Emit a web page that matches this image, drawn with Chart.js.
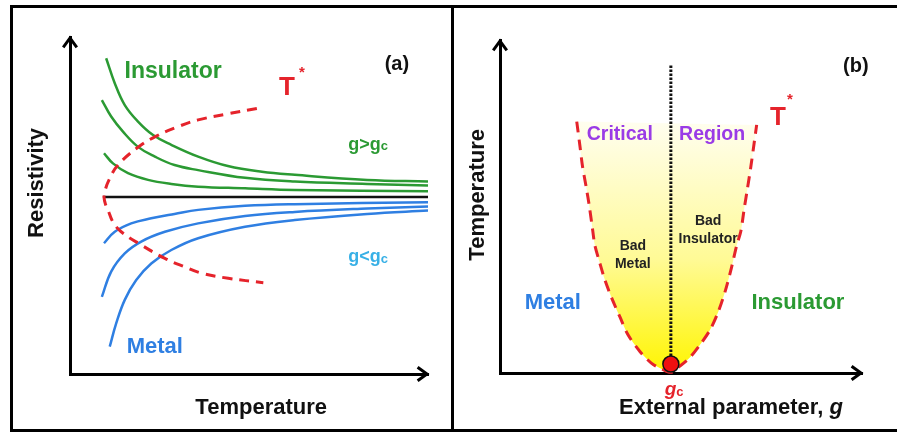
<!DOCTYPE html>
<html>
<head>
<meta charset="utf-8">
<script src="https://cdn.jsdelivr.net/npm/chart.js@4.4.1/dist/chart.umd.min.js"></script>
<style>
  html, body { margin: 0; padding: 0; background: #fff; }
  #pagina { position: relative; width: 897px; height: 433px; overflow: hidden; }
  #moldura { position: absolute; left: 10px; top: 5px; width: 900px; height: 421px;
             border-top: 3px solid #000; border-left: 3px solid #000; border-bottom: 3px solid #000; }
  #divisor { position: absolute; left: 451px; top: 5px; width: 3px; height: 427px; background: #000; }
  canvas { position: absolute; top: 0; }
  #graficoResistividade { left: 0; }
  #graficoFases { left: 452px; }
</style>
</head>
<body>
<div id="pagina">
  <div id="moldura"></div>
  <div id="divisor"></div>
  <canvas id="graficoResistividade" width="452" height="433"></canvas>
  <canvas id="graficoFases" width="445" height="433"></canvas>
</div>
<script>
// (a) resistivity vs temperature (both axes 0-100, arbitrary units)
var insulatorHigh = [[10.1,93.7],[12.5,86.3],[15.3,79.8],[19.0,74.9],[23.2,70.9],[28.3,68.0],[35.8,64.5],[44.1,61.7],[53.6,60.0],[62.8,59.1],[83.0,57.6],[100,57.1]];
var insulatorMid  = [[8.9,81.3],[11.5,76.4],[14.8,71.9],[19.0,67.4],[23.7,64.5],[29.2,62.0],[35.8,60.5],[48.9,58.2],[62.8,57.1],[83.0,56.4],[100,55.9]];
var insulatorLow  = [[9.5,65.5],[12.0,62.5],[16.2,59.6],[21.8,57.6],[28.3,56.4],[35.8,55.6],[48.9,55.1],[62.8,54.6],[100,54.2]];
var separatrix    = [[9.2,52.5],[100,52.5]];
var metalHigh     = [[9.5,38.8],[12.5,42.2],[17.1,44.7],[22.7,46.2],[29.2,47.5],[35.8,48.7],[48.9,49.9],[62.8,50.4],[100,51.0]];
var metalMid      = [[8.9,22.9],[11.5,30.4],[15.3,35.8],[19.9,39.3],[26.5,42.2],[35.8,44.7],[48.9,46.9],[62.8,48.1],[83.0,49.1],[100,49.7]];
var metalLow      = [[11.1,8.1],[12.9,15.0],[15.3,22.0],[18.5,27.9],[22.7,32.8],[28.3,36.8],[35.8,40.3],[48.9,43.7],[62.8,45.7],[83.0,47.5],[100,48.5]];
var crossoverA    = [[52.2,78.8],[44.1,77.2],[35.8,75.4],[30.2,73.4],[24.1,70.6],[19.0,67.3],[13.4,62.0],[10.9,57.6],[9.7,54.1],[9.5,52.5],[9.9,50.4],[10.6,48.7],[12.0,45.1],[14.3,42.2],[19.9,38.3],[26.5,34.3],[32.0,31.8],[36.8,29.9],[44.2,28.4],[54.0,27.1]];

// (b) temperature vs external parameter g
var crossoverB    = [[21.2,75.5],[22.1,68.0],[22.8,62.0],[23.8,55.9],[24.7,49.9],[25.6,42.9],[26.2,38.4],[27.6,32.9],[29.0,27.9],[30.9,22.4],[33.1,16.9],[35.4,11.4],[38.7,6.4],[41.9,2.9],[44.7,1.2],[47.2,0.2],[49.7,2.1],[52.5,4.7],[55.2,8.4],[58.0,12.9],[60.3,18.4],[62.3,24.9],[64.0,31.9],[65.4,38.4],[66.5,42.4],[67.4,48.9],[68.3,55.0],[69.3,62.0],[70.2,69.0],[70.9,74.5]];
var criticalLine  = [[47.2,2.7],[47.2,92.5]];
var criticalPoint = [[47.2,2.7]];

var FONTE = '"Liberation Sans", Arial, sans-serif';
function fonte(tam, estilo){ return (estilo || 'bold') + ' ' + tam + 'px ' + FONTE; }
function pontos(arr){ return arr.map(function(p){ return {x: p[0], y: p[1]}; }); }

var VERDE = '#2b9a33', AZUL = '#2f7fe2', CIANO = '#38b0e6', VERMELHO = '#e5232b', ROXO = '#9a3be6';

// arrow heads + free text, placed through the chart scales
var textoEsboco = {
    id: 'textoEsboco',
    afterDatasetsDraw: function(chart, args, opts){
        var ctx = chart.ctx, area = chart.chartArea, sx = chart.scales.x, sy = chart.scales.y;
        ctx.save();
        ctx.fillStyle = '#000';
        // y arrow
        seta(ctx, area.left, area.top - 1.5, 0);
        // x arrow
        seta(ctx, area.right + 1.5, area.bottom, Math.PI / 2);
        (opts.itens || []).forEach(function(t){
            var px = sx.getPixelForValue(t.x), py = sy.getPixelForValue(t.y);
            ctx.save();
            ctx.translate(px, py);
            if (t.giro) ctx.rotate(t.giro);
            ctx.textBaseline = 'middle';
            ctx.textAlign = 'left';
            var largura = 0;
            t.partes.forEach(function(p){ ctx.font = p.font; largura += ctx.measureText(p.text).width; });
            var x0 = t.align === 'left' ? 0 : -largura / 2;
            t.partes.forEach(function(p){
                ctx.font = p.font;
                ctx.fillStyle = p.color;
                ctx.fillText(p.text, x0, p.dy || 0);
                x0 += ctx.measureText(p.text).width;
            });
            ctx.restore();
        });
        ctx.restore();
    }
};

function seta(ctx, x, y, ang){
    ctx.save();
    ctx.translate(x, y);
    ctx.rotate(ang);
    ctx.beginPath();
    ctx.moveTo(0, 0);
    ctx.lineTo(8, 11);
    ctx.lineTo(5.6, 12.8);
    ctx.lineTo(0, 5.1);
    ctx.lineTo(-5.6, 12.8);
    ctx.lineTo(-8, 11);
    ctx.closePath();
    ctx.fill();
    ctx.restore();
}

function eixos(){
    var eixo = function(){
        return {
            type: 'linear', min: 0, max: 100,
            ticks: { display: false },
            grid: { display: false, drawTicks: false },
            border: { display: true, color: '#000', width: 3 }
        };
    };
    return { x: eixo(), y: eixo() };
}

function curva(dados, cor, extra){
    var ds = {
        data: pontos(dados), borderColor: cor, borderWidth: 2.5, pointRadius: 0,
        tension: 0.4, fill: false, clip: false
    };
    for (var k in extra) ds[k] = extra[k];
    return ds;
}

function texto(x, y, partes, extra){
    var t = { x: x, y: y, partes: partes };
    for (var k in extra) t[k] = extra[k];
    return t;
}

var Esboco = Esboco || {};

Esboco.GraficoResistividade = (function(){

    function GraficoResistividade(){
        this.ctx = document.getElementById('graficoResistividade').getContext('2d');
    }

    GraficoResistividade.prototype.iniciar = function(){
        new Chart(this.ctx, {
            type: 'line',
            data: {
                datasets: [
                    curva(crossoverA, VERMELHO, { borderWidth: 3, borderDash: [10, 7] }),
                    curva(insulatorHigh, VERDE),
                    curva(insulatorMid, VERDE),
                    curva(insulatorLow, VERDE),
                    curva(separatrix, '#111', { tension: 0 }),
                    curva(metalHigh, AZUL),
                    curva(metalMid, AZUL),
                    curva(metalLow, AZUL)
                ]
            },
            options: {
                responsive: false, animation: false, devicePixelRatio: 1,
                layout: { padding: { left: 70, top: 37, right: 24, bottom: 59 } },
                scales: eixos(),
                plugins: {
                    legend: { display: false },
                    tooltip: { enabled: false },
                    textoEsboco: {
                        itens: [
                            texto(28.8, 89.6, [{ text: 'Insulator', font: fonte(23), color: VERDE }]),
                            texto(60.6, 84.9, [{ text: 'T', font: fonte(26), color: VERMELHO }]),
                            texto(64.8, 89.3, [{ text: '*', font: fonte(15), color: VERMELHO }]),
                            texto(91.3, 91.7, [{ text: '(a)', font: fonte(20), color: '#111' }]),
                            texto(77.7, 68.0, [{ text: 'g>g', font: fonte(18), color: VERDE }, { text: 'c', font: fonte(13), color: VERDE, dy: 2 }], { align: 'left' }),
                            texto(77.7, 34.7, [{ text: 'g<g', font: fonte(18), color: CIANO }, { text: 'c', font: fonte(13), color: CIANO, dy: 2 }], { align: 'left' }),
                            texto(23.7, 8.0, [{ text: 'Metal', font: fonte(22), color: AZUL }]),
                            texto(-9.2, 56.7, [{ text: 'Resistivity', font: fonte(22), color: '#111' }], { giro: -Math.PI / 2 }),
                            texto(53.4, -10.1, [{ text: 'Temperature', font: fonte(22), color: '#111' }])
                        ]
                    }
                }
            },
            plugins: [textoEsboco]
        });
    };

    return GraficoResistividade;

}());

Esboco.GraficoFases = (function(){

    function GraficoFases(){
        this.ctx = document.getElementById('graficoFases').getContext('2d');
    }

    GraficoFases.prototype.iniciar = function(){
        new Chart(this.ctx, {
            type: 'line',
            data: {
                datasets: [
                    {
                        data: pontos(criticalPoint), showLine: false, pointRadius: 8,
                        pointBackgroundColor: '#f01010', pointBorderColor: '#111', pointBorderWidth: 1.5, clip: false
                    },
                    curva(criticalLine, '#111', { borderWidth: 3, borderDash: [2.5, 1.5], tension: 0 }),
                    curva(crossoverB, VERMELHO, {
                        borderWidth: 3, borderDash: [11, 7], tension: 0.3,
                        fill: 'shape',
                        backgroundColor: function(context){
                            var chart = context.chart;
                            if (!chart.chartArea) return 'rgba(255,255,0,0.4)';
                            var y = chart.scales.y;
                            var g = chart.ctx.createLinearGradient(0, y.getPixelForValue(0), 0, y.getPixelForValue(76));
                            g.addColorStop(0, 'rgb(255,245,0)');
                            g.addColorStop(0.45, 'rgb(255,250,150)');
                            g.addColorStop(1, 'rgb(255,254,240)');
                            return g;
                        }
                    })
                ]
            },
            options: {
                responsive: false, animation: false, devicePixelRatio: 1,
                layout: { padding: { left: 48, top: 40, right: 35, bottom: 60 } },
                scales: eixos(),
                plugins: {
                    legend: { display: false },
                    tooltip: { enabled: false },
                    textoEsboco: {
                        itens: [
                            texto(98.3, 91.9, [{ text: '(b)', font: fonte(20), color: '#111' }]),
                            texto(76.8, 76.6, [{ text: 'T', font: fonte(26), color: VERMELHO }]),
                            texto(80.1, 82.0, [{ text: '*', font: fonte(15), color: VERMELHO }]),
                            texto(33.1, 71.5, [{ text: 'Critical', font: fonte(19.5), color: ROXO }]),
                            texto(58.6, 71.5, [{ text: 'Region', font: fonte(19.5), color: ROXO }]),
                            texto(36.7, 38.1, [{ text: 'Bad', font: fonte(14), color: '#222' }]),
                            texto(36.7, 32.7, [{ text: 'Metal', font: fonte(14), color: '#222' }]),
                            texto(57.5, 45.6, [{ text: 'Bad', font: fonte(14), color: '#222' }]),
                            texto(57.5, 40.2, [{ text: 'Insulator', font: fonte(14), color: '#222' }]),
                            texto(14.6, 21.0, [{ text: 'Metal', font: fonte(22), color: AZUL }]),
                            texto(82.3, 21.0, [{ text: 'Insulator', font: fonte(22), color: VERDE }]),
                            texto(48.1, -5.1, [{ text: 'g', font: fonte(19, 'italic bold'), color: VERMELHO }, { text: 'c', font: fonte(13), color: VERMELHO, dy: 2 }]),
                            texto(63.8, -10.5, [{ text: 'External parameter, ', font: fonte(22), color: '#111' }, { text: 'g', font: fonte(22, 'italic bold'), color: '#111' }]),
                            texto(-6.1, 53.5, [{ text: 'Temperature', font: fonte(22), color: '#111' }], { giro: -Math.PI / 2 })
                        ]
                    }
                }
            },
            plugins: [textoEsboco]
        });
    };

    return GraficoFases;

}());

new Esboco.GraficoResistividade().iniciar();
new Esboco.GraficoFases().iniciar();
</script>
</body>
</html>
